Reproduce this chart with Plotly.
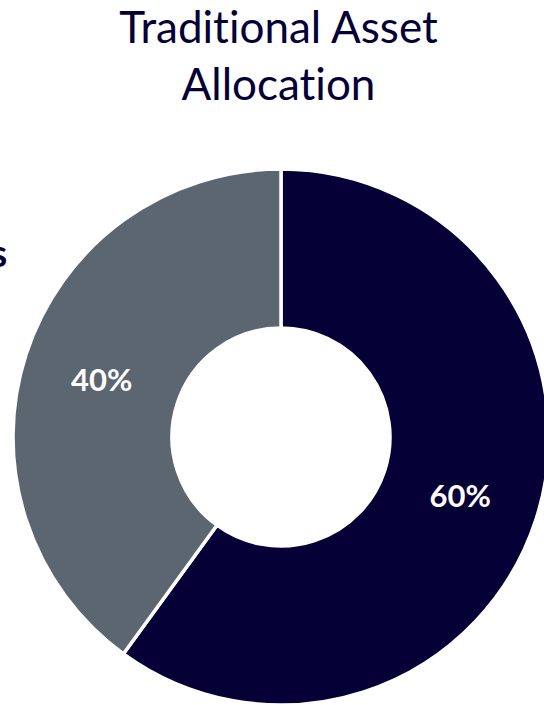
import plotly.graph_objects as go

labels = ["Stocks", "Bonds"]
values = [60, 40]
colors = ["#050036", "#5B6670"]
# zero-width non-joiner keeps "ti" from being drawn as a ligature
title_text = "Tradit\u200cional Asset<br>Allocat\u200cion"
side_label = "Bonds"

W, H = 550, 705
cx, cy, R = 281, 437, 268

fig = go.Figure(
    go.Pie(
        labels=labels,
        values=values,
        hole=109 / R,
        sort=False,
        direction="clockwise",
        rotation=0,
        marker=dict(colors=colors, line=dict(color="white", width=3.5)),
        textinfo="percent",
        textposition="inside",
        insidetextorientation="horizontal",
        insidetextfont=dict(family="Lato", size=31, color="white", weight="bold"),
        showlegend=False,
        hoverinfo="label+percent",
        domain=dict(
            x=[(cx - R) / W, (cx + R) / W],
            y=[(H - cy - R) / H, (H - cy + R) / H],
        ),
    )
)

fig.add_annotation(
    text=side_label,
    xref="paper", yref="paper",
    x=9 / W, y=1 - 252 / H,
    xanchor="right", yanchor="middle",
    showarrow=False,
    font=dict(family="Lato", size=38, color="#050036", weight="bold"),
)

fig.update_layout(
    width=W, height=H, autosize=False,
    margin=dict(l=0, r=0, t=0, b=0),
    paper_bgcolor="white",
    plot_bgcolor="white",
    title=dict(
        text=title_text,
        x=278.5 / W, xanchor="center",
        y=1 - 43 / H, yanchor="top",
        xref="container", yref="container",
        font=dict(family="Lato", size=44, color="#050036"),
    ),
)

fig.write_html("out.html")
